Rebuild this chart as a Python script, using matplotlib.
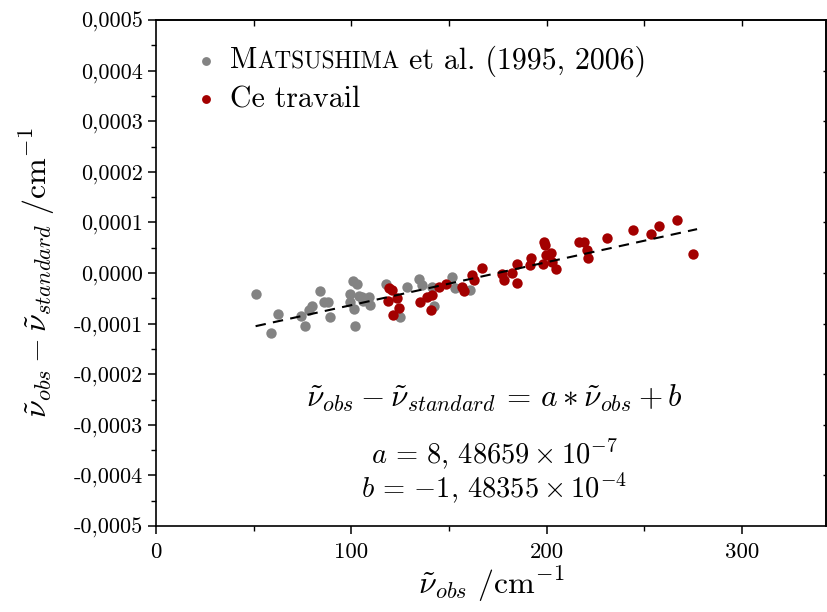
import numpy as np
import matplotlib
matplotlib.use("Agg")
import matplotlib.pyplot as plt
from matplotlib.ticker import MultipleLocator

# Computer Modern look, like the LaTeX original
plt.rcParams["font.family"] = "serif"
plt.rcParams["font.serif"] = ["cmr10"]
plt.rcParams["mathtext.fontset"] = "cm"
plt.rcParams["axes.formatter.use_mathtext"] = True

# data (y values in cm-1)
matsushima_x = [51.1, 58.8, 62.7, 74.2, 76.4, 78.1, 79.8, 84.1, 85.8, 88.0, 89.2,
                100.9, 102.9, 99.5, 99.5, 101.2, 101.7, 103.7, 105.5, 108.9, 109.7,
                106.0, 117.8, 125.1, 128.5, 134.5, 136.2, 142.2, 141.4, 151.6, 153.3,
                161.0]
matsushima_y = [-0.42e-4, -1.18e-4, -0.81e-4, -0.85e-4, -1.04e-4, -0.73e-4, -0.65e-4,
                -0.35e-4, -0.57e-4, -0.57e-4, -0.86e-4, -0.16e-4, -0.22e-4, -0.41e-4,
                -0.57e-4, -0.72e-4, -1.05e-4, -0.45e-4, -0.47e-4, -0.47e-4, -0.63e-4,
                -0.55e-4, -0.22e-4, -0.86e-4, -0.28e-4, -0.12e-4, -0.24e-4, -0.65e-4,
                -0.27e-4, -0.07e-4, -0.30e-4, -0.34e-4]

travail_x = [119.1, 120.9, 118.6, 123.4, 124.3, 121.2, 135.0, 138.5, 141.4, 141.0,
             145.1, 148.6, 156.8, 157.6, 161.9, 162.7, 167.0, 177.3, 178.1, 182.4,
             184.6, 185.0, 191.8, 191.4, 198.6, 199.0, 199.5, 198.3, 202.0, 202.9,
             204.6, 216.6, 219.1, 220.9, 221.2, 231.1, 244.4, 253.3, 257.3, 266.5,
             275.0]
travail_y = [-0.30e-4, -0.34e-4, -0.55e-4, -0.50e-4, -0.70e-4, -0.83e-4, -0.57e-4,
             -0.47e-4, -0.43e-4, -0.73e-4, -0.27e-4, -0.22e-4, -0.27e-4, -0.36e-4,
             -0.03e-4, -0.14e-4, 0.09e-4, -0.01e-4, -0.14e-4, 0.01e-4, 0.18e-4,
             -0.20e-4, 0.29e-4, 0.16e-4, 0.62e-4, 0.55e-4, 0.36e-4, 0.17e-4, 0.39e-4,
             0.22e-4, 0.07e-4, 0.62e-4, 0.62e-4, 0.45e-4, 0.29e-4, 0.70e-4, 0.85e-4,
             0.78e-4, 0.93e-4, 1.05e-4, 0.37e-4]

# linear fit given on the chart
fit_a = 8.48659e-7
fit_b = -1.48355e-4
fit_x = np.array([51.0, 277.0])

ytick_values = [0.0005, 0.0004, 0.0003, 0.0002, 0.0001, 0.0, -0.0001, -0.0002,
                -0.0003, -0.0004, -0.0005]
ytick_labels = ["0,0005", "0,0004", "0,0003", "0,0002", "0,0001", "0,0000",
                "-0,0001", "-0,0002", "-0,0003", "-0,0004", "-0,0005"]
xtick_values = [0, 100, 200, 300]

GRAY = "#838383"
RED = "#A30000"

fig = plt.figure(figsize=(8.27, 6.12), dpi=100)
ax = fig.add_axes([0.1886, 0.1405, 0.8102, 0.8268])

ax.scatter(matsushima_x, matsushima_y, s=56, color=GRAY, linewidths=0, zorder=2,
           label="M")
ax.scatter(travail_x, travail_y, s=56, color=RED, linewidths=0, zorder=3,
           label="Ce travail")
ax.plot(fit_x, fit_a * fit_x + fit_b, color="black", lw=1.5, ls=(0, (5, 3.5)), zorder=4)

ax.set_xlim(0, 343)
ax.set_ylim(-0.0005, 0.0005)

ax.set_yticks(ytick_values)
ax.set_yticklabels(ytick_labels, fontsize=16)
ax.set_xticks(xtick_values)
ax.set_xticklabels([str(v) for v in xtick_values], fontsize=16.5)
ax.xaxis.set_minor_locator(MultipleLocator(50))
ax.yaxis.set_minor_locator(MultipleLocator(0.00005))

for sp in ax.spines.values():
    sp.set_linewidth(1.2)

ax.tick_params(axis="both", which="major", direction="out", length=6, width=1.1,
               left=True, bottom=True, top=False, right=False)
ax.tick_params(axis="both", which="minor", direction="out", length=3.5, width=1.0,
               left=True, bottom=True, top=False, right=False)
ax.tick_params(axis="x", pad=6)

# inward ticks on the top and right frame
top = ax.secondary_xaxis("top")
top.set_xticks([50, 100, 150, 200, 250, 300])
top.tick_params(direction="in", length=4, width=1.0, labeltop=False)
top.spines["top"].set_linewidth(1.2)
right = ax.secondary_yaxis("right")
right.set_yticks(ytick_values[1:-1])
right.tick_params(direction="in", length=2.5, width=1.0, labelright=False)
right.spines["right"].set_linewidth(1.2)

ax.set_xlabel(r"$\tilde{\nu}_{obs}\ /\mathrm{cm}^{-1}$", fontsize=23, labelpad=2)
ax.set_ylabel(r"$\tilde{\nu}_{obs}-\tilde{\nu}_{standard}\ /\mathrm{cm}^{-1}$",
              fontsize=23, labelpad=12)

# equation block
ax.text(0.505, 0.253,
        r"$\tilde{\nu}_{obs}-\tilde{\nu}_{standard}\,=\,a\ast\tilde{\nu}_{obs}+b$",
        transform=ax.transAxes, ha="center", va="center", fontsize=22.5)
ax.text(0.505, 0.141, r"$a\,=\,8,\,48659\times10^{-7}$",
        transform=ax.transAxes, ha="center", va="center", fontsize=20.5)
ax.text(0.505, 0.073, r"$b\,=\,{-}1,\,48355\times10^{-4}$",
        transform=ax.transAxes, ha="center", va="center", fontsize=20.5)

LEG_SIZE = 21.5
leg = ax.legend(loc="upper left", frameon=False, fontsize=LEG_SIZE, handletextpad=0.3,
                handlelength=1.0, markerscale=0.85, borderaxespad=0.3,
                labelspacing=0.38, bbox_to_anchor=(0.021, 0.988))

# small caps for the author name: append the rest after the legend "M"
fig.canvas.draw()
renderer = fig.canvas.get_renderer()
m_text = leg.get_texts()[0]
bb = m_text.get_window_extent(renderer)
base = m_text.get_transform().transform(m_text.get_unitless_position())
W, H = fig.bbox.width, fig.bbox.height
sc = fig.text(bb.x1 / W, base[1] / H, "ATSUSHIMA", fontsize=LEG_SIZE * 0.78,
              ha="left", va="baseline")
fig.canvas.draw()
bb2 = sc.get_window_extent(renderer)
fig.text(bb2.x1 / W, base[1] / H, " et al. (1995, 2006)", fontsize=LEG_SIZE,
         ha="left", va="baseline")

fig.savefig("out.png", dpi=100, facecolor="white")
